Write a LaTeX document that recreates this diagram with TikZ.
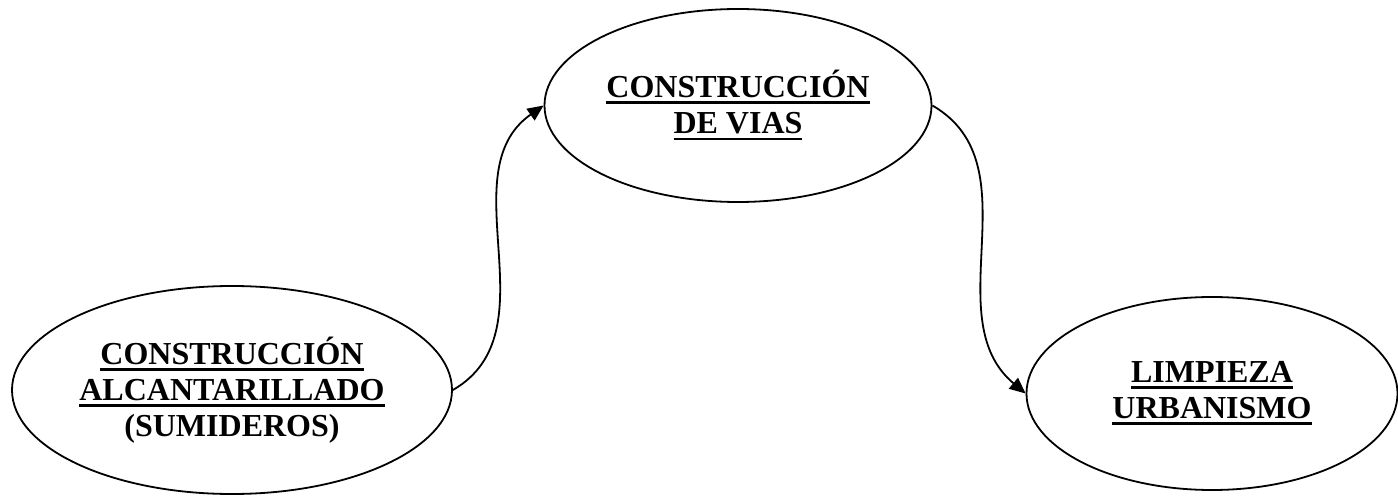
\documentclass[tikz,border=0pt]{standalone}
\usepackage{fontspec}
\setmainfont{Liberation Serif}
\usetikzlibrary{shapes.geometric,arrows.meta}
\newcommand{\subr}[1]{\leavevmode\vtop{\hbox{#1}\kern1.6pt\hrule height 1.4pt}}

\begin{document}
\begin{tikzpicture}
        [x=1pt,y=1pt,every node/.style={ellipse,draw,line width=0.9pt,inner sep=0pt,align=center,
         font=\fontsize{16pt}{18pt}\selectfont\bfseries}]
        \useasboundingbox (0,0) rectangle (699,249.5);
        % obras
        \node[minimum width=220pt,minimum height=104pt]  (ALC) at  (116,54.5)
            {\subr{CONSTRUCCIÓN}\\\subr{ALCANTARILLADO}\\(SUMIDEROS)};
        \node[minimum width=193.5pt,minimum height=96.5pt] (VIAS) at (369,196.75)
            {\subr{CONSTRUCCIÓN}\\\subr{DE VIAS}};
        \node[minimum width=185.5pt,minimum height=96.5pt] (LIMP) at (606,52.75)
            {\subr{LIMPIEZA}\\\subr{URBANISMO}};

        % secuencia
        \draw[line width=0.9pt,-{Triangle[length=8pt,width=7pt]}]
        (ALC.east)   to[out=30,in=215]    (VIAS.west);
        \draw[line width=0.9pt,-{Triangle[length=8pt,width=7pt]}]
        (VIAS.east)  to[out=-30,in=140]   (LIMP.west);
    \end{tikzpicture}
\end{document}
